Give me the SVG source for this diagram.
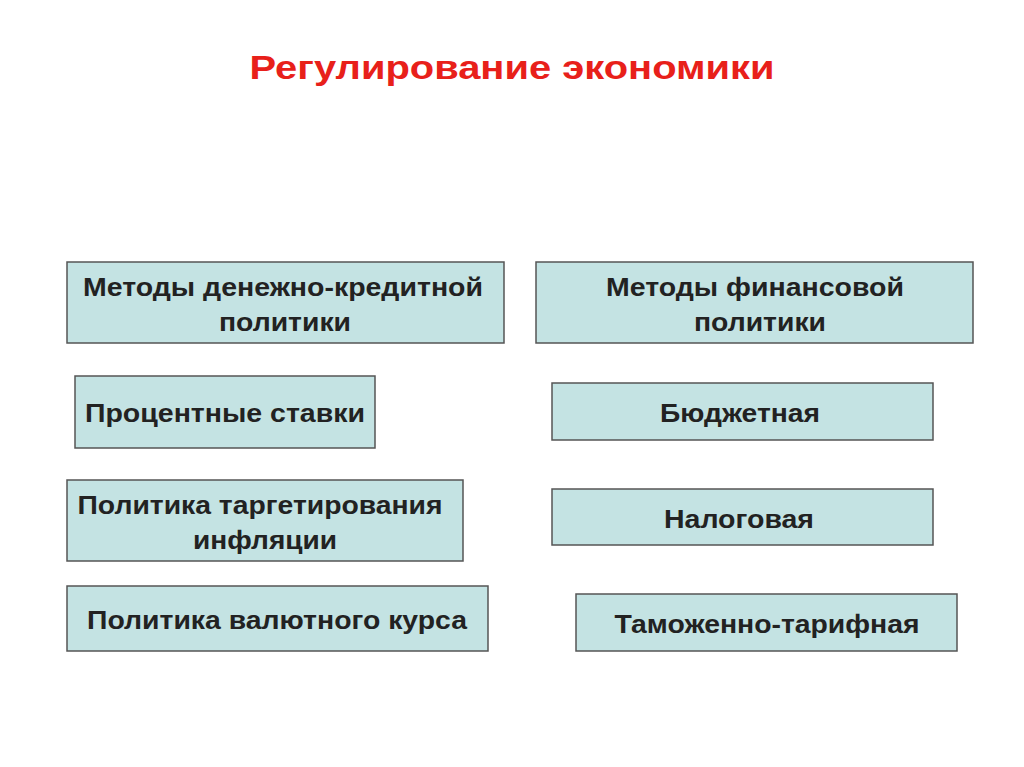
<svg xmlns="http://www.w3.org/2000/svg" width="1024" height="767" viewBox="0 0 1024 767">
<style>
.b{fill:#c4e3e3;stroke:#555;stroke-width:1.5}
.t{font-family:"Liberation Sans",Arial,sans-serif;font-weight:bold;font-size:25px;fill:#222;text-anchor:middle}
</style>
<rect width="1024" height="767" fill="#fff"/>
<text x="512" y="79" textLength="525" lengthAdjust="spacingAndGlyphs" style="font-family:'Liberation Sans',Arial,sans-serif;font-weight:bold;font-size:34px;fill:#e8201a;text-anchor:middle">Регулирование экономики</text>
<g id="n1"><rect class="b" x="67" y="262" width="437" height="81"/><text class="t" x="283" y="296" textLength="400" lengthAdjust="spacingAndGlyphs">Методы денежно-кредитной</text><text class="t" x="285" y="331" textLength="132" lengthAdjust="spacingAndGlyphs">политики</text></g>
<g id="n2"><rect class="b" x="536" y="262" width="437" height="81"/><text class="t" x="755" y="296" textLength="298" lengthAdjust="spacingAndGlyphs">Методы финансовой</text><text class="t" x="760" y="331" textLength="132" lengthAdjust="spacingAndGlyphs">политики</text></g>
<g id="n3"><rect class="b" x="75" y="376" width="300" height="72"/><text class="t" x="225" y="422" textLength="280" lengthAdjust="spacingAndGlyphs">Процентные ставки</text></g>
<g id="n4"><rect class="b" x="552" y="383" width="381" height="57"/><text class="t" x="740" y="422" textLength="160" lengthAdjust="spacingAndGlyphs">Бюджетная</text></g>
<g id="n5"><rect class="b" x="67" y="480" width="396" height="81"/><text class="t" x="260" y="514" textLength="365" lengthAdjust="spacingAndGlyphs">Политика таргетирования</text><text class="t" x="265" y="549" textLength="144" lengthAdjust="spacingAndGlyphs">инфляции</text></g>
<g id="n6"><rect class="b" x="552" y="489" width="381" height="56"/><text class="t" x="739" y="528" textLength="150" lengthAdjust="spacingAndGlyphs">Налоговая</text></g>
<g id="n7"><rect class="b" x="67" y="586" width="421" height="65"/><text class="t" x="277" y="629" textLength="380" lengthAdjust="spacingAndGlyphs">Политика валютного курса</text></g>
<g id="n8"><rect class="b" x="576" y="594" width="381" height="57"/><text class="t" x="767" y="633" textLength="305" lengthAdjust="spacingAndGlyphs">Таможенно-тарифная</text></g>
<g id="connectors"/>
</svg>
